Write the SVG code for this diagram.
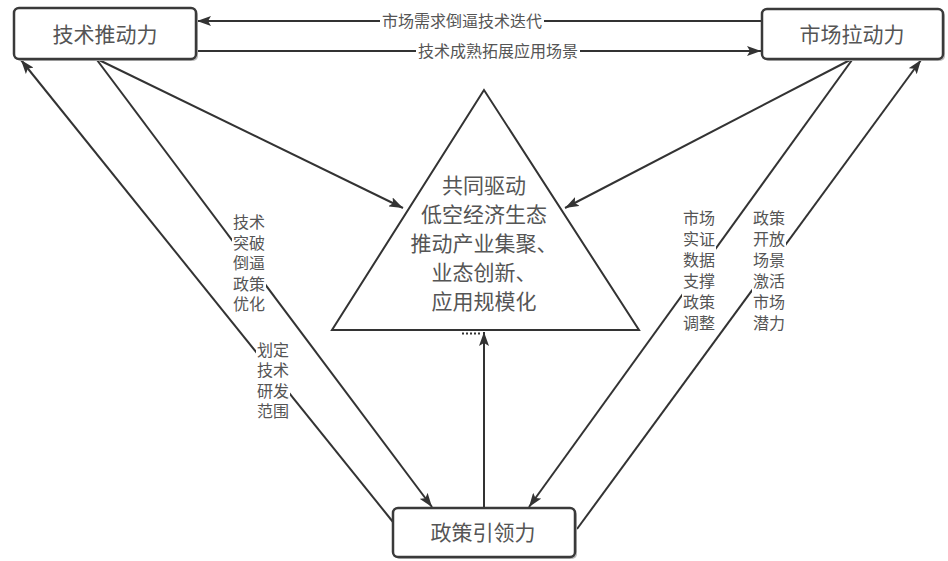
<svg xmlns="http://www.w3.org/2000/svg" width="948" height="561" viewBox="0 0 948 561">
<defs>
<marker id="ah" viewBox="0 0 14 10" refX="14" refY="5" markerWidth="14" markerHeight="10" orient="auto" markerUnits="userSpaceOnUse"><path d="M0,0 L14,5 L0,10 L3,5 z" fill="#333"/></marker>
<style>
.box{fill:#fff;stroke:#3a3a3a;stroke-width:2.5}
.shadow{fill:#bbb}
.bt{font-family:"Noto Sans CJK SC","Noto Sans",sans-serif;font-size:21px;fill:#555;text-anchor:middle}
.lt{font-family:"Noto Sans CJK SC","Noto Sans",sans-serif;font-size:16px;fill:#555;text-anchor:middle}
.tt{font-family:"Noto Sans CJK SC","Noto Sans",sans-serif;font-size:21px;fill:#555;text-anchor:middle}
.ln{stroke:#333;stroke-width:2;fill:none}
.bg{fill:#fff}
</style>
</defs>
<rect width="948" height="561" fill="#fff"/>
<g id="connectors">
<line class="ln" x1="762" y1="21" x2="197" y2="21" marker-end="url(#ah)"/>
<line class="ln" x1="196" y1="51" x2="761" y2="51" marker-end="url(#ah)"/>
<line class="ln" x1="99" y1="60" x2="403" y2="208" marker-end="url(#ah)"/>
<line class="ln" x1="850" y1="60" x2="565" y2="208" marker-end="url(#ah)"/>
<line class="ln" x1="97" y1="60" x2="432" y2="507" marker-end="url(#ah)"/>
<line class="ln" x1="393" y1="522" x2="21" y2="60" marker-end="url(#ah)"/>
<line class="ln" x1="852" y1="60" x2="529" y2="507" marker-end="url(#ah)"/>
<line class="ln" x1="577" y1="529" x2="921" y2="60" marker-end="url(#ah)"/>
<line class="ln" x1="484" y1="508" x2="484" y2="332" marker-end="url(#ah)"/>
<line x1="462" y1="333.5" x2="482" y2="333.5" stroke="#333" stroke-width="2" stroke-dasharray="2,2"/>
</g>
<g id="label-top1"><rect class="bg" x="380" y="11" width="164" height="20"/><text class="lt" x="462" y="27">市场需求倒逼技术迭代</text></g>
<g id="label-top2"><rect class="bg" x="416" y="41" width="164" height="20"/><text class="lt" x="498" y="57">技术成熟拓展应用场景</text></g>
<g id="label-left1"><rect class="bg" x="232" y="212" width="34" height="103"/>
<text class="lt"><tspan x="249" y="228">技术</tspan><tspan x="249" y="248.5">突破</tspan><tspan x="249" y="269">倒逼</tspan><tspan x="249" y="289.5">政策</tspan><tspan x="249" y="310">优化</tspan></text></g>
<g id="label-left2"><rect class="bg" x="256" y="339" width="34" height="82"/>
<text class="lt"><tspan x="273" y="355.5">划定</tspan><tspan x="273" y="376">技术</tspan><tspan x="273" y="396.5">研发</tspan><tspan x="273" y="417">范围</tspan></text></g>
<g id="label-right1"><rect class="bg" x="682" y="207" width="34" height="126"/>
<text class="lt"><tspan x="699" y="224">市场</tspan><tspan x="699" y="245">实证</tspan><tspan x="699" y="266">数据</tspan><tspan x="699" y="287">支撑</tspan><tspan x="699" y="308">政策</tspan><tspan x="699" y="329">调整</tspan></text></g>
<g id="label-right2"><rect class="bg" x="752" y="207" width="34" height="126"/>
<text class="lt"><tspan x="769" y="224">政策</tspan><tspan x="769" y="245">开放</tspan><tspan x="769" y="266">场景</tspan><tspan x="769" y="287">激活</tspan><tspan x="769" y="308">市场</tspan><tspan x="769" y="329">潜力</tspan></text></g>
<g id="node-tech"><rect class="shadow" x="16" y="10" width="182" height="51" rx="5"/><rect class="box" x="14" y="8" width="182" height="51" rx="5"/><text class="bt" x="105" y="42">技术推动力</text></g>
<g id="node-market"><rect class="shadow" x="764" y="11" width="181" height="50" rx="5"/><rect class="box" x="762" y="9" width="181" height="50" rx="5"/><text class="bt" x="852" y="42">市场拉动力</text></g>
<g id="node-policy"><rect class="shadow" x="395" y="510" width="182" height="49" rx="5"/><rect class="box" x="393" y="508" width="182" height="49" rx="5"/><text class="bt" x="483" y="540">政策引领力</text></g>
<g id="node-core"><polygon points="484,90 332,330 639,330" fill="#fff" stroke="#333" stroke-width="2"/>
<text class="tt"><tspan x="484" y="192.5">共同驱动</tspan><tspan x="484" y="221.5">低空经济生态</tspan><tspan x="484" y="250.5">推动产业集聚、</tspan><tspan x="484" y="279.5">业态创新、</tspan><tspan x="484" y="308.5">应用规模化</tspan></text></g>
</svg>
